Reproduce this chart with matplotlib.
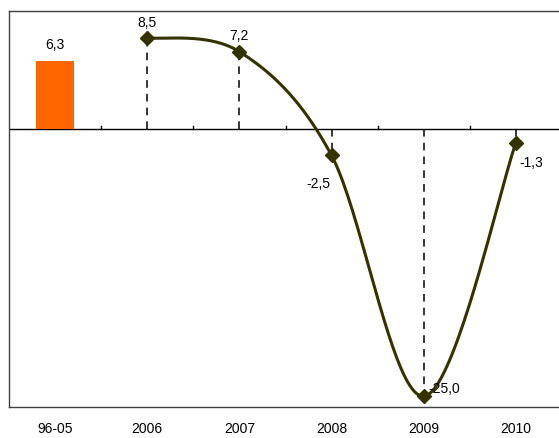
import numpy as np
import matplotlib
matplotlib.use("Agg")
import matplotlib.pyplot as plt

plt.rcParams['font.family'] = ['Liberation Sans', 'DejaVu Sans']

# data
categories = ["96-05", "2006", "2007", "2008", "2009", "2010"]
bar_value = 6.3
line_values = [8.5, 7.2, -2.5, -25.0, -1.3]
line_labels = ["8,5", "7,2", "-2,5", "-25,0", "-1,3"]
bar_label = "6,3"

line_color = "#333300"
bar_color = "#FF6600"


def smooth(xs, ys, n=40):
    # Catmull-Rom style smoothing, endpoints duplicated
    xs = np.asarray(xs, float)
    ys = np.asarray(ys, float)
    px = np.concatenate([[xs[0]], xs, [xs[-1]]])
    py = np.concatenate([[ys[0]], ys, [ys[-1]]])
    outx, outy = [], []
    for i in range(1, len(px) - 2):
        m0x = (px[i + 1] - px[i - 1]) / 2
        m1x = (px[i + 2] - px[i]) / 2
        m0y = (py[i + 1] - py[i - 1]) / 2
        m1y = (py[i + 2] - py[i]) / 2
        t = np.linspace(0, 1, n)
        h00 = 2 * t**3 - 3 * t**2 + 1
        h10 = t**3 - 2 * t**2 + t
        h01 = -2 * t**3 + 3 * t**2
        h11 = t**3 - t**2
        outx.extend(h00 * px[i] + h10 * m0x + h01 * px[i + 1] + h11 * m1x)
        outy.extend(h00 * py[i] + h10 * m0y + h01 * py[i + 1] + h11 * m1y)
    return np.array(outx), np.array(outy)


fig = plt.figure(figsize=(5.59, 4.39), dpi=100)
ax = fig.add_axes([9 / 559, 1 - 408 / 439, 553 / 559, 396 / 439])

x = np.arange(len(categories))
line_x = x[1:]

ax.bar(x[0], bar_value, width=0.41, color=bar_color, zorder=2)
ax.annotate(bar_label, (x[0], bar_value), xytext=(0, 17), textcoords="offset pixels",
            ha="center", va="center", fontsize=10)

# dashed drop lines
for xi, yi in zip(line_x, line_values):
    ax.plot([xi, xi], [0, yi], color="black", lw=1.1, ls=(0, (5, 4)), zorder=2)

sx, sy = smooth(line_x, line_values)
ax.plot(sx, sy, color=line_color, lw=2.2, zorder=3)
ax.plot(line_x, line_values, ls="none", marker="D", ms=7, color=line_color, zorder=4)

offsets = [(0, 16), (0, 17), (-13, -28), (20, 8), (15, -19)]
for xi, yi, lab, off in zip(line_x, line_values, line_labels, offsets):
    ax.annotate(lab, (xi, yi), xytext=off, textcoords="offset pixels",
                ha="center", va="center", fontsize=10)

# zero axis with small ticks between categories
ax.axhline(0, color="black", lw=1, zorder=1)
for b in x[:-1] + 0.5:
    ax.plot([b, b], [0, 0.3], color="black", lw=1, zorder=1)

ax.set_xlim(-0.5, len(categories) - 0.5)
ax.set_ylim(-26, 11)
ax.set_xticks(x)
ax.set_xticklabels(categories, fontsize=10)
ax.tick_params(axis="x", length=0, pad=10)
ax.set_yticks([])
for s in ax.spines.values():
    s.set_color("#404040")
    s.set_linewidth(1)

fig.savefig("out.png", dpi=100)
